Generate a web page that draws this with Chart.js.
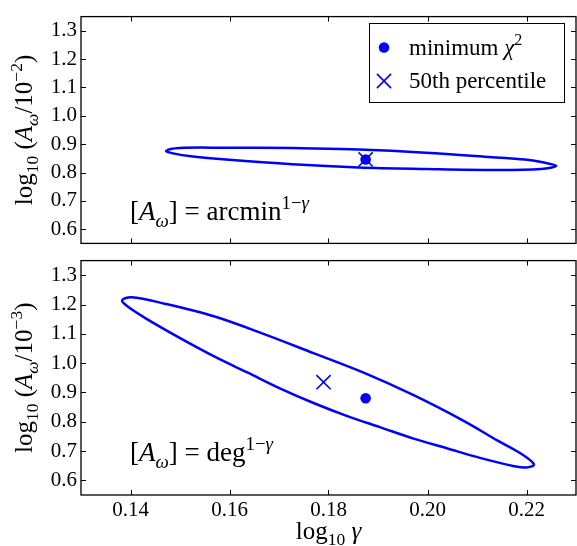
<!DOCTYPE html>
<html>
<head>
<meta charset="utf-8">
<title>A_omega vs gamma</title>
<script src="https://cdn.jsdelivr.net/npm/chart.js@4.4.1/dist/chart.umd.min.js"></script>
<style>
    html, body { margin: 0; padding: 0; background: #fff; }
    #wrap { position: relative; width: 577px; height: 546px; overflow: hidden; }
    canvas { position: absolute; left: 0; }
    #topChart { top: 0; }
    #bottomChart { top: 244px; }
</style>
</head>
<body>
<div id="wrap">
    <canvas id="topChart" width="577" height="260"></canvas>
    <canvas id="bottomChart" width="577" height="302"></canvas>
</div>
<script>
// Axis ranges and ticks
const xMin = 0.13, xMax = 0.23;
const yMin = 0.55, yMax = 1.35;
const xTicks = [0.14, 0.16, 0.18, 0.20, 0.22];
const xTickLabels = ['0.14', '0.16', '0.18', '0.20', '0.22'];
const yTicks = [0.6, 0.7, 0.8, 0.9, 1.0, 1.1, 1.2, 1.3];
const yTickLabels = ['0.6', '0.7', '0.8', '0.9', '1.0', '1.1', '1.2', '1.3'];

// Top panel (arcmin): confidence contour, min chi2, 50th percentile
const topContourX = [0.1727, 0.1861, 0.1996, 0.2130, 0.2197, 0.2230, 0.2260, 0.2230, 0.2130, 0.1996,
    0.1861, 0.1727, 0.1593, 0.1526, 0.1486, 0.1472, 0.1499, 0.1593, 0.1727];
const topContourY = [0.8864, 0.8808, 0.8699, 0.8543, 0.8457, 0.8368, 0.8235, 0.8126, 0.8093, 0.8126,
    0.8179, 0.8291, 0.8457, 0.8566, 0.8675, 0.8765, 0.8864, 0.8874, 0.8864];
const topMinChi2 = [0.1875, 0.846];
const topMedian = [0.1875, 0.846];

// Bottom panel (deg)
const bottomContourX = [0.1771, 0.1871, 0.1972, 0.2073, 0.2140, 0.2187, 0.2215, 0.2200, 0.2173, 0.2106,
    0.2039, 0.1972, 0.1905, 0.1838, 0.1771, 0.1704, 0.1637, 0.1570, 0.1503, 0.1435,
    0.1395, 0.1383, 0.1402, 0.1469, 0.1570, 0.1670, 0.1771];
const bottomContourY = [1.0332, 0.9674, 0.8905, 0.8030, 0.7372, 0.6931, 0.6549, 0.6437, 0.6493, 0.6766,
    0.7095, 0.7424, 0.7809, 0.8194, 0.8632, 0.9125, 0.9674, 1.0220, 1.0826, 1.1484,
    1.1921, 1.2141, 1.2250, 1.2030, 1.1592, 1.0990, 1.0332];
const bottomMinChi2 = [0.1875, 0.880];
const bottomMedian = [0.1790, 0.935];

const BLUE = '#0000ff';
const FONT = '"Liberation Serif", "DejaVu Serif", serif';

// Draw a run of text pieces with italics, sub- and superscripts
function drawRich(ctx, parts, x, y, size, align) {
    const items = parts.map(p => {
        const s = (p.sub || p.sup) ? size * 0.7 : size;
        const font = (p.it ? 'italic ' : '') + s + 'px ' + FONT;
        ctx.font = font;
        const dy = p.sub ? size * 0.25 : (p.sup ? -size * 0.42 : 0);
        return { t: p.t, font: font, w: ctx.measureText(p.t).width, dy: dy };
    });
    const total = items.reduce((a, b) => a + b.w, 0);
    let cx = x;
    if (align === 'center') cx = x - total / 2;
    else if (align === 'right') cx = x - total;
    ctx.textBaseline = 'alphabetic';
    ctx.textAlign = 'left';
    items.forEach(it => {
        ctx.font = it.font;
        ctx.fillText(it.t, cx, y + it.dy);
        cx += it.w;
    });
}

function yTitleParts(exp) {
    return [
        { t: 'log' }, { t: '10', sub: true }, { t: ' (' },
        { t: 'A', it: true }, { t: 'ω', it: true, sub: true }, { t: '/10' },
        { t: exp, sup: true }, { t: ')' }
    ];
}

function point(ctx, style, x, y, radius, lineWidth) {
    ctx.fillStyle = BLUE;
    ctx.strokeStyle = BLUE;
    ctx.lineWidth = lineWidth;
    if (Chart.helpers && Chart.helpers.drawPoint) {
        Chart.helpers.drawPoint(ctx, { pointStyle: style, rotation: 0, radius: radius, borderWidth: lineWidth }, x, y);
        return;
    }
    ctx.beginPath();
    if (style === 'circle') {
        ctx.arc(x, y, radius, 0, Math.PI * 2);
        ctx.fill();
    } else {
        const d = radius * Math.SQRT1_2;
        ctx.moveTo(x - d, y - d); ctx.lineTo(x + d, y + d);
        ctx.moveTo(x + d, y - d); ctx.lineTo(x - d, y + d);
        ctx.stroke();
    }
}

// Full box with inward tick marks on all four sides, plus panel texts
const framePlugin = {
    id: 'frame',
    afterDraw(chart, args, opts) {
        const { ctx, chartArea: a, scales } = chart;
        ctx.save();
        ctx.strokeStyle = '#000';
        ctx.lineWidth = 1;
        ctx.beginPath();
        scales.x.ticks.forEach(t => {
            const px = Math.round(scales.x.getPixelForValue(t.value)) + 0.5;
            ctx.moveTo(px, a.bottom); ctx.lineTo(px, a.bottom - 5);
            ctx.moveTo(px, a.top); ctx.lineTo(px, a.top + 5);
        });
        scales.y.ticks.forEach(t => {
            const py = Math.round(scales.y.getPixelForValue(t.value)) + 0.5;
            ctx.moveTo(a.left, py); ctx.lineTo(a.left + 5, py);
            ctx.moveTo(a.right, py); ctx.lineTo(a.right - 5, py);
        });
        ctx.stroke();
        ctx.lineWidth = 1.3;
        ctx.strokeRect(a.left, a.top, a.right - a.left, a.bottom - a.top);

        ctx.fillStyle = '#000';
        // y axis title, rotated
        ctx.save();
        ctx.translate(opts.yTitleX, (a.top + a.bottom) / 2);
        ctx.rotate(-Math.PI / 2);
        drawRich(ctx, opts.yTitle, 0, 0, 25, 'center');
        ctx.restore();

        // unit annotation
        drawRich(ctx, opts.note, 130, opts.noteY, 27, 'left');

        if (opts.xTitle) {
            drawRich(ctx, opts.xTitle, (a.left + a.right) / 2, opts.xTitleY, 25, 'center');
        }

        if (opts.legend) {
            ctx.lineWidth = 1;
            ctx.strokeStyle = '#000';
            ctx.strokeRect(369.5, 23.5, 195, 79);
            point(ctx, 'circle', 384, 47.5, 5.3, 0);
            point(ctx, 'crossRot', 384, 81, 10, 1.6);
            ctx.fillStyle = '#000';
            drawRich(ctx, [{ t: 'minimum ' }, { t: 'χ', it: true }, { t: '2', sup: true }], 409, 55, 23, 'left');
            drawRich(ctx, [{ t: '50th percentile' }], 409, 88, 23, 'left');
        }
        ctx.restore();
    }
};

function pairs(xs, ys) {
    return xs.map((x, i) => ({ x: x, y: ys[i] }));
}

function buildDatasets(cx, cy, minChi2, median) {
    return [
        {
            label: 'contour',
            data: pairs(cx, cy),
            showLine: true,
            borderColor: BLUE,
            borderWidth: 2.5,
            pointRadius: 0,
            tension: 0.35,
            fill: false
        },
        {
            label: 'minimum χ²',
            data: [{ x: minChi2[0], y: minChi2[1] }],
            pointStyle: 'circle',
            pointRadius: 5.3,
            backgroundColor: BLUE,
            borderColor: BLUE,
            borderWidth: 0
        },
        {
            label: '50th percentile',
            data: [{ x: median[0], y: median[1] }],
            pointStyle: 'crossRot',
            pointRadius: 10,
            borderColor: BLUE,
            borderWidth: 1.6
        }
    ];
}

function panelOptions(isBottom, frameOpts) {
    const tickFont = { family: FONT, size: 21 };
    return {
        responsive: false,
        animation: false,
        events: [],
        layout: {
            autoPadding: false,
            padding: { top: isBottom ? 8 : 11, right: 1, left: 0, bottom: 0 }
        },
        plugins: {
            legend: { display: false },
            tooltip: { enabled: false },
            frame: frameOpts
        },
        scales: {
            x: {
                type: 'linear',
                min: xMin,
                max: xMax,
                grid: { display: false, drawTicks: false },
                border: { display: false },
                ticks: {
                    display: isBottom,
                    padding: 3,
                    color: '#000',
                    maxRotation: 0,
                    autoSkip: false,
                    font: tickFont,
                    callback: value => xTickLabels[xTicks.indexOf(value)]
                },
                afterBuildTicks: scale => { scale.ticks = xTicks.map(v => ({ value: v })); },
                afterFit: scale => { scale.height = isBottom ? 51 : 8; }
            },
            y: {
                type: 'linear',
                min: yMin,
                max: yMax,
                grid: { display: false, drawTicks: false },
                border: { display: false },
                ticks: {
                    padding: 4,
                    color: '#000',
                    autoSkip: false,
                    font: tickFont,
                    callback: value => yTickLabels[yTicks.indexOf(value)]
                },
                afterBuildTicks: scale => { scale.ticks = yTicks.map(v => ({ value: v })); },
                afterFit: scale => { scale.width = 81; }
            }
        }
    };
}

document.addEventListener('DOMContentLoaded', function() {
    const topCtx = document.getElementById('topChart');
    new Chart(topCtx, {
        type: 'scatter',
        data: { datasets: buildDatasets(topContourX, topContourY, topMinChi2, topMedian) },
        options: panelOptions(false, {
            yTitle: yTitleParts('−2'),
            yTitleX: 32,
            note: [{ t: '[' }, { t: 'A', it: true }, { t: 'ω', it: true, sub: true }, { t: ']' },
                   { t: ' = arcmin' }, { t: '1−', sup: true }, { t: 'γ', sup: true, it: true }],
            noteY: 220,
            legend: true
        }),
        plugins: [framePlugin]
    });

    const bottomCtx = document.getElementById('bottomChart');
    new Chart(bottomCtx, {
        type: 'scatter',
        data: { datasets: buildDatasets(bottomContourX, bottomContourY, bottomMinChi2, bottomMedian) },
        options: panelOptions(true, {
            yTitle: yTitleParts('−3'),
            yTitleX: 32,
            note: [{ t: '[' }, { t: 'A', it: true }, { t: 'ω', it: true, sub: true }, { t: ']' },
                   { t: ' = deg' }, { t: '1−', sup: true }, { t: 'γ', sup: true, it: true }],
            noteY: 461 - 244,
            xTitle: [{ t: 'log' }, { t: '10', sub: true }, { t: ' ' }, { t: 'γ', it: true }],
            xTitleY: 539 - 244
        }),
        plugins: [framePlugin]
    });
});
</script>
</body>
</html>
